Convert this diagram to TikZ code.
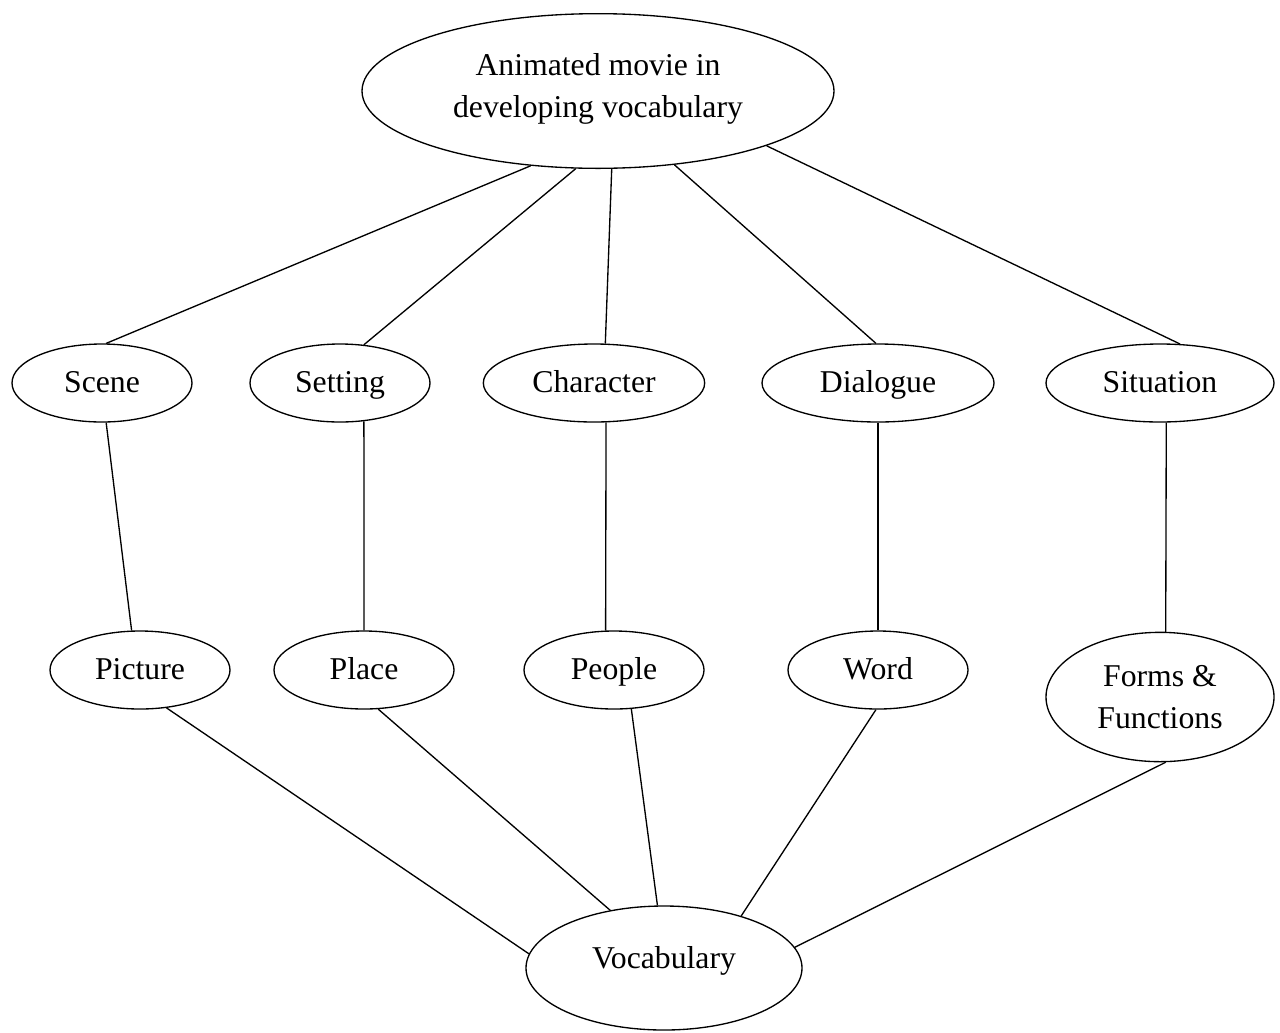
\documentclass[tikz,border=0pt]{standalone}
\usepackage{fontspec}
\setmainfont{Liberation Serif}
\usetikzlibrary{shapes.geometric}

\begin{document}
\begin{tikzpicture}[x=0.75pt,y=-0.75pt,
      oval/.style={ellipse,draw,line width=1pt,inner sep=0pt,
                   minimum height=58.5pt,align=center,
                   text height=18pt,text depth=4pt,
                   font=\fontsize{23.8}{31.5}\selectfont},
      link/.style={line width=1pt}]
    \useasboundingbox (0,0) rectangle (1280,1032);

    \node[oval,minimum width=354pt,minimum height=116pt,text height=43pt] (movie) at (598,91)
      {Animated movie in\\developing vocabulary};

    \node[oval,minimum width=135pt]   (scene) at (102,383) {Scene};
    \node[oval,minimum width=135pt]   (setting) at (340,383) {Setting};
    \node[oval,minimum width=166pt]   (character) at (594,383) {Character};
    \node[oval,minimum width=174pt]   (dialogue) at (878,383) {Dialogue};
    \node[oval,minimum width=171pt]   (situation) at (1160,383) {Situation};

    \node[oval,minimum width=135pt]   (picture) at (140,670) {Picture};
    \node[oval,minimum width=135pt]   (place) at (364,670) {Place};
    \node[oval,minimum width=135pt]   (people) at (614,670) {People};
    \node[oval,minimum width=135pt]   (word) at (878,670) {Word};
    \node[oval,minimum width=171pt,minimum height=97pt,text height=50.5pt] (forms) at (1160,697)
      {Forms \&\\Functions};

    \node[oval,minimum width=207pt,minimum height=93pt,text depth=18pt] (vocab) at (664,968)
      {Vocabulary};

    \draw[link] (movie.228) -- (scene.84);
    \draw[link] (movie.254) -- (setting.58);
    \draw[link] (movie.280) -- (character.74);
    \draw[link] (movie.316) -- (dialogue.93);
    \draw[link] (movie.342) -- (situation.63);

    \draw[link] (scene.276) -- (picture.102);
    \draw[link] (setting.302) -- (place.90);
    \draw[link] (character.287) -- (people.102);
    \draw[link] (dialogue.270) -- (word.90);
    \draw[link] (situation.279) -- (forms.85);

    \draw[link] (picture.305) -- (vocab.174);
    \draw[link] (place.290) -- (vocab.133);
    \draw[link] (people.294) -- (vocab.96);
    \draw[link] (word.267) -- (vocab.34);
    \draw[link] (forms.275) -- (vocab.9);
  \end{tikzpicture}
\end{document}
